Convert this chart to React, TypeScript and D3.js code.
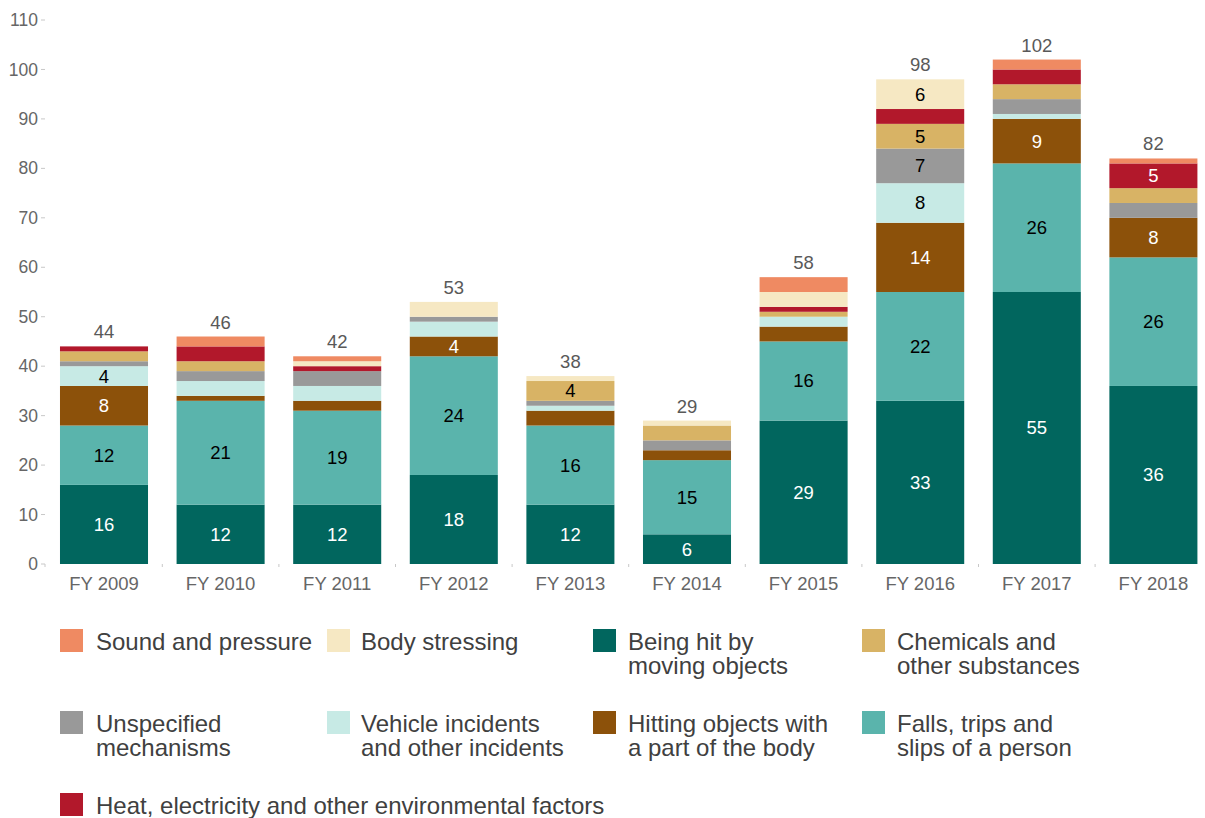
import React from "react";
import * as d3 from "d3";

const years = ["FY 2009", "FY 2010", "FY 2011", "FY 2012", "FY 2013", "FY 2014", "FY 2015", "FY 2016", "FY 2017", "FY 2018"];
const beingHit = [16, 12, 12, 18, 12, 6, 29, 33, 55, 36];
const falls = [12, 21, 19, 24, 16, 15, 16, 22, 26, 26];
const hitting = [8, 1, 2, 4, 3, 2, 3, 14, 9, 8];
const vehicle = [4, 3, 3, 3, 1, 0, 2, 8, 1, 0];
const unspecified = [1, 2, 3, 1, 1, 2, 0, 7, 3, 3];
const chemicals = [2, 2, 0, 0, 4, 3, 1, 5, 3, 3];
const heat = [1, 3, 1, 0, 0, 0, 1, 3, 3, 5];
const bodyStressing = [0, 0, 1, 3, 1, 1, 3, 6, 0, 0];
const sound = [0, 2, 1, 0, 0, 0, 3, 0, 2, 1];
const yTicks = [0, 10, 20, 30, 40, 50, 60, 70, 80, 90, 100, 110];

const series = [
  { key: "beingHit", values: beingHit, color: "#01665e", text: "#ffffff" },
  { key: "falls", values: falls, color: "#5ab4ac", text: "#000000" },
  { key: "hitting", values: hitting, color: "#8c510a", text: "#ffffff" },
  { key: "vehicle", values: vehicle, color: "#c7eae5", text: "#000000" },
  { key: "unspecified", values: unspecified, color: "#999999", text: "#000000" },
  { key: "chemicals", values: chemicals, color: "#d8b365", text: "#000000" },
  { key: "heat", values: heat, color: "#b2182b", text: "#ffffff" },
  { key: "body", values: bodyStressing, color: "#f6e8c3", text: "#000000" },
  { key: "sound", values: sound, color: "#ef8a62", text: "#000000" },
];

const legendItems = [
  { lines: ["Sound and pressure"], color: "#ef8a62" },
  { lines: ["Body stressing"], color: "#f6e8c3" },
  { lines: ["Being hit by", "moving objects"], color: "#01665e" },
  { lines: ["Chemicals and", "other substances"], color: "#d8b365" },
  { lines: ["Unspecified", "mechanisms"], color: "#999999" },
  { lines: ["Vehicle incidents", "and other incidents"], color: "#c7eae5" },
  { lines: ["Hitting objects with", "a part of the body"], color: "#8c510a" },
  { lines: ["Falls, trips and", "slips of a person"], color: "#5ab4ac" },
  { lines: ["Heat, electricity and other environmental factors"], color: "#b2182b" },
];

export default function App() {
  const W = 1205, H = 818;
  const x = d3.scaleBand<string>().domain(years).range([45.7, 1211.7]).paddingInner(0.245).paddingOuter(0.1225);
  const y = d3.scaleLinear().domain([0, 110]).range([564, 20]);
  const table = years.map((yr, i) => {
    const row: any = { year: yr };
    series.forEach((s) => (row[s.key] = s.values[i]));
    return row;
  });
  const stacked = d3.stack<any>().keys(series.map((s) => s.key))(table);
  const totals = years.map((_, i) => d3.sum(series, (s) => s.values[i]));
  const font = "Liberation Sans, Arial, sans-serif";
  const step = x.step();
  const colX = [60, 327, 593, 862];
  const textX = [96, 361, 628, 897];
  const rowY = [629, 711, 793];

  return (
    <svg width={W} height={H} style={{ position: "absolute", left: 0, top: 0, background: "#fff" }} fontFamily={font}>
      {yTicks.map((t) => (
        <g key={t}>
          <line x1={41} x2={45} y1={y(t)} y2={y(t)} stroke="#c8c8c8" />
          <text x={38} y={y(t)} dy="0.35em" textAnchor="end" fontSize={17.5} fill="#666">{t}</text>
        </g>
      ))}
      {years.map((yr, i) => {
        const tx = x(yr)! + x.bandwidth() + (step - x.bandwidth()) / 2;
        return <line key={"xt" + i} x1={tx} x2={tx} y1={564} y2={567} stroke="#c8c8c8" />;
      })}
      <line x1={45} x2={45} y1={564} y2={567} stroke="#c8c8c8" />
      {years.map((yr) => (
        <text key={"xl" + yr} x={x(yr)! + x.bandwidth() / 2} y={590} textAnchor="middle" fontSize={18.5} fill="#666">{yr}</text>
      ))}
      {stacked.map((layer, li) => (
        <g key={layer.key} fill={series[li].color}>
          {layer.map((d, i) => {
            const h = y(d[0]) - y(d[1]);
            if (h <= 0) return null;
            return <rect key={i} x={x(years[i])} y={y(d[1])} width={x.bandwidth()} height={h} />;
          })}
        </g>
      ))}
      {stacked.map((layer, li) => (
        <g key={"lab" + layer.key}>
          {layer.map((d, i) => {
            const v = d[1] - d[0];
            if (v < 4) return null;
            return (
              <text key={i} x={x(years[i])! + x.bandwidth() / 2} y={(y(d[0]) + y(d[1])) / 2} dy="0.35em" textAnchor="middle" fontSize={18.5} fill={series[li].text}>{v}</text>
            );
          })}
        </g>
      ))}
      {totals.map((t, i) => (
        <text key={"tot" + i} x={x(years[i])! + x.bandwidth() / 2} y={y(t) - 8} textAnchor="middle" fontSize={18.5} fill="#595959">{t}</text>
      ))}
      {legendItems.map((it, i) => {
        const c = i % 4;
        const cy = rowY[Math.floor(i / 4)];
        return (
          <g key={"lg" + i}>
            <rect x={colX[c]} y={cy} width={23} height={23} fill={it.color} />
            {it.lines.map((ln, j) => (
              <text key={j} x={textX[c]} y={cy + 21 + j * 24} fontSize={24} fill="#404040">{ln}</text>
            ))}
          </g>
        );
      })}
    </svg>
  );
}
